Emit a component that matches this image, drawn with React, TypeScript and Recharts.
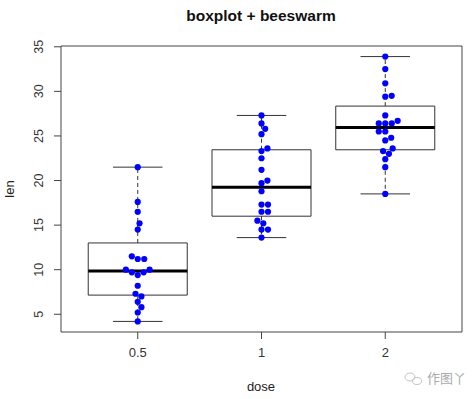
import React from 'react';
import {
  ComposedChart, Scatter, XAxis, YAxis, ReferenceArea, ReferenceLine, Customized,
} from 'recharts';

// ToothGrowth: len by dose
const doseLabels = ['0.5', '1', '2'];
const lenDose05 = [4.2, 11.5, 7.3, 5.8, 6.4, 10, 11.2, 11.2, 5.2, 7, 15.2, 21.5, 17.6, 9.7, 14.5, 10, 8.2, 9.4, 16.5, 9.7];
const lenDose1 = [16.5, 16.5, 15.2, 17.3, 22.5, 17.3, 13.6, 14.5, 18.8, 15.5, 19.7, 23.3, 23.6, 26.4, 20, 25.2, 25.8, 21.2, 14.5, 27.3];
const lenDose2 = [23.6, 18.5, 33.9, 25.5, 26.4, 32.5, 26.7, 21.5, 23.3, 29.5, 25.5, 26.4, 22.4, 24.5, 24.8, 30.9, 26.4, 27.3, 29.4, 23];
const yTicks = [5, 10, 15, 20, 25, 30, 35];

const groups = [lenDose05, lenDose1, lenDose2];

// layout
const W = 474;
const H = 399;
const plotLeft = 61;
const plotRight = 462;
const plotTop = 46;
const plotBottom = 332;
const dotSize = 6.5; // beeswarm spacing in px
const FONT = '"Liberation Sans", Arial, sans-serif';

// R style axis ranges (4% extension)
const all = groups.flat();
const yMin = Math.min(...all);
const yMax = Math.max(...all);
const yPad = (yMax - yMin) * 0.04;
const yDomain: [number, number] = [yMin - yPad, yMax + yPad];
const xDomain: [number, number] = [0.5 - 0.12, groups.length + 0.5 + 0.12];
const pxPerY = (plotBottom - plotTop) / (yDomain[1] - yDomain[0]);
const pxPerX = (plotRight - plotLeft) / (xDomain[1] - xDomain[0]);

function fivenum(v: number[]) {
  const s = [...v].sort((a, b) => a - b);
  const n = s.length;
  const n4 = Math.floor((n + 3) / 2) / 2;
  const d = [1, n4, (n + 1) / 2, n + 1 - n4, n];
  return d.map(k => 0.5 * (s[Math.floor(k) - 1] + s[Math.ceil(k) - 1]));
}

function boxStats(v: number[]) {
  const [, q1, med, q3] = fivenum(v);
  const iqr = q3 - q1;
  const lo = Math.min(...v.filter(x => x >= q1 - 1.5 * iqr));
  const hi = Math.max(...v.filter(x => x <= q3 + 1.5 * iqr));
  return { q1, med, q3, lo, hi };
}

// beeswarm "swarm" method, ascending priority
function swarm(vals: number[]): number[] {
  const order = vals.map((_, i) => i).sort((a, b) => vals[a] - vals[b]);
  const out = new Array(vals.length).fill(0);
  const placed: { x: number; y: number }[] = [];
  for (const i of order) {
    const y = vals[i] * pxPerY;
    const near = placed.filter(p => Math.abs(p.y - y) < dotSize);
    const offs = near.map(p => Math.sqrt(dotSize * dotSize - (p.y - y) ** 2));
    const cands = [0, ...near.map((p, k) => p.x + offs[k]), ...near.map((p, k) => p.x - offs[k])];
    const ok = cands.filter(c => near.every(p => (p.x - c) ** 2 + (p.y - y) ** 2 >= dotSize * dotSize - 1e-6));
    let best = ok[0];
    for (const c of ok) if (Math.abs(c) < Math.abs(best)) best = c;
    out[i] = best;
    placed.push({ x: best, y });
  }
  return out;
}

const points = groups.flatMap((vals, g) => {
  const offs = swarm(vals);
  return vals.map((v, i) => ({ x: g + 1 + offs[i] / pxPerX, y: v }));
});

const stats = groups.map(boxStats);

const YTick = (props: any) => {
  const { x, y, payload } = props;
  const tx = x - 9;
  return (
    <text x={tx} y={y} transform={`rotate(-90, ${tx}, ${y})`} textAnchor="middle"
      fontSize={12.5} fill="#333" fontFamily={FONT}>
      {payload.value}
    </text>
  );
};

const Texts = () => (
  <g fontFamily={FONT}>
    <text x={261} y={21} textAnchor="middle" fontSize={15.5} fontWeight="bold" fill="#111">
      boxplot + beeswarm
    </text>
    <text x={261} y={391} textAnchor="middle" fontSize={13} fill="#222">dose</text>
    <text x={14} y={189} transform="rotate(-90, 14, 189)" textAnchor="middle" fontSize={13} fill="#222">len</text>
    <g stroke="#c4c4c4" fill="none" strokeWidth={1}>
      <ellipse cx={410} cy={377} rx={5} ry={4} />
      <ellipse cx={417} cy={381} rx={4.5} ry={3.5} />
    </g>
    <text x={427} y={383} fontSize={13} fill="#aaa" fontFamily='"Noto Sans CJK SC", sans-serif'>作图丫</text>
  </g>
);

export default function App() {
  return (
    <div style={{ position: 'absolute', left: 0, top: 0, width: W, height: H, background: '#fff' }}>
      <ComposedChart width={W} height={H} margin={{ top: plotTop, right: W - plotRight, bottom: 0, left: 0 }}>
        <XAxis type="number" dataKey="x" domain={xDomain} ticks={[1, 2, 3]} allowDataOverflow
          tickFormatter={(v: number) => doseLabels[v - 1]} axisLine={false} tickSize={7}
          tickLine={{ stroke: '#444' }} height={H - plotBottom} tickMargin={9}
          tick={{ fontSize: 13, fill: '#333', fontFamily: FONT }} />
        <YAxis type="number" dataKey="y" domain={yDomain} ticks={yTicks} allowDataOverflow
          width={plotLeft} axisLine={false} tickSize={7} tickLine={{ stroke: '#444' }} tick={<YTick />} />
        <ReferenceArea x1={xDomain[0]} x2={xDomain[1]} y1={yDomain[0]} y2={yDomain[1]}
          fill="#fff" fillOpacity={0} stroke="#444" strokeWidth={1} />
        {stats.map((s, g) => (
          <React.Fragment key={g}>
            <ReferenceLine segment={[{ x: g + 1, y: s.q3 }, { x: g + 1, y: s.hi }]} stroke="#333" strokeDasharray="4 3" />
            <ReferenceLine segment={[{ x: g + 1, y: s.q1 }, { x: g + 1, y: s.lo }]} stroke="#333" strokeDasharray="4 3" />
            <ReferenceLine segment={[{ x: g + 0.8, y: s.hi }, { x: g + 1.2, y: s.hi }]} stroke="#333" />
            <ReferenceLine segment={[{ x: g + 0.8, y: s.lo }, { x: g + 1.2, y: s.lo }]} stroke="#333" />
            <ReferenceArea x1={g + 0.6} x2={g + 1.4} y1={s.q1} y2={s.q3} fill="#fff" fillOpacity={0} stroke="#333" strokeWidth={1} />
            <ReferenceLine segment={[{ x: g + 0.6, y: s.med }, { x: g + 1.4, y: s.med }]} stroke="#000" strokeWidth={3} />
          </React.Fragment>
        ))}
        <Scatter data={points} isAnimationActive={false}
          shape={(p: any) => <circle cx={p.cx} cy={p.cy} r={3.1} fill="#0000FF" />} />
        <Customized component={Texts} />
      </ComposedChart>
    </div>
  );
}
